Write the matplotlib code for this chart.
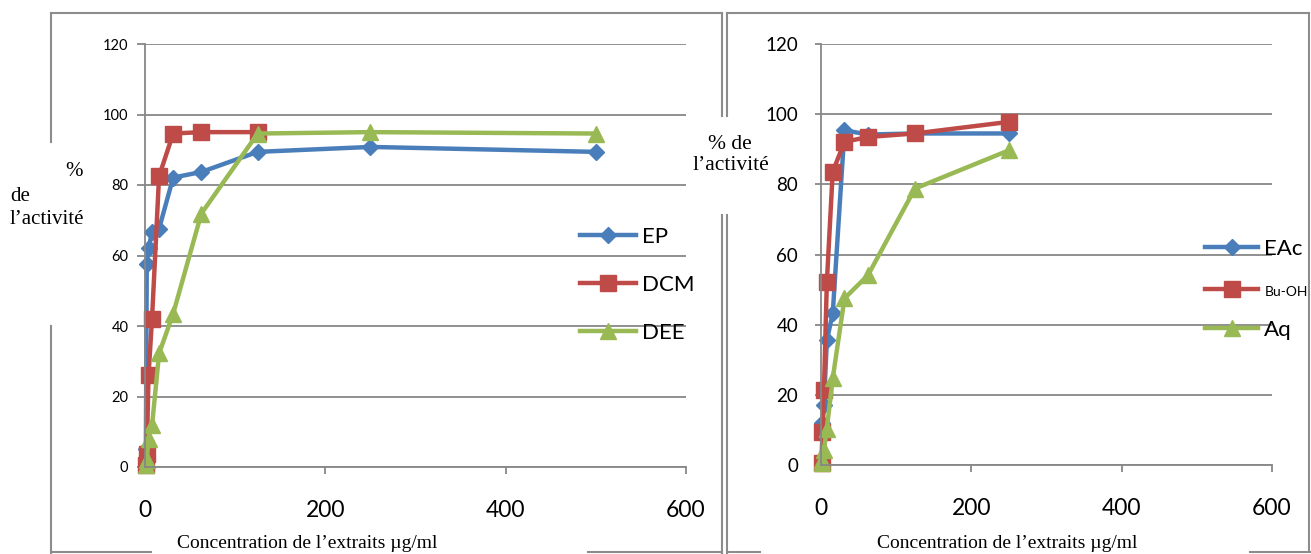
"""activite des extraits en fonction de la concentration (deux graphes)"""
import matplotlib
matplotlib.use("Agg")
import matplotlib.pyplot as plt
from matplotlib.lines import Line2D

# concentrations (µg/ml)
conc_left = [0.98, 1.95, 3.9, 7.8, 15.6, 31.25, 62.5, 125, 250, 500]
conc_right = [0.98, 1.95, 3.9, 7.8, 15.6, 31.25, 62.5, 125, 250]

# % de l'activite - graphe de gauche
ep = [5.0, 57.7, 62.0, 66.7, 67.6, 82.1, 83.7, 89.4, 90.8, 89.4]
dcm = [0.5, 3.8, 26.0, 42.1, 82.5, 94.6, 95.0, 95.0]
dee = [0.5, 2.0, 8.0, 11.8, 32.2, 43.5, 71.9, 94.6, 95.0, 94.6]

# % de l'activite - graphe de droite
eac = [0.5, 11.9, 17.1, 35.6, 43.2, 95.4, 94.2, 94.5, 94.5]
buoh = [0.5, 9.5, 21.4, 52.2, 83.6, 92.1, 93.5, 94.5, 97.8]
aq = [0.5, 1.5, 4.3, 10.4, 24.7, 47.5, 54.1, 78.8, 89.7]

labels_left = ["EP", "DCM", "DEE"]
labels_right = ["EAc", "Bu-OH", "Aq"]
x_ticks = [0, 200, 400, 600]
y_ticks = [0, 20, 40, 60, 80, 100, 120]

BLUE = "#4A7EBB"
RED = "#BE4B48"
GREEN = "#98B954"
GRID = "#878787"
FRAME = "#8C8C8C"
SERIF = ["Liberation Serif", "DejaVu Serif"]

W, H = 1311, 554


def fx(px):
    """pixel -> fraction (x)"""
    return px / W


def fy(py):
    """pixel -> fraction (y)"""
    return 1 - py / H


def style_axes(ax, ysize, ylen, ypad):
    """axes a la Excel"""
    ax.set_xlim(0, 600)
    ax.set_ylim(0, 120)
    ax.set_xticks(x_ticks)
    ax.set_yticks(y_ticks)
    ax.grid(axis="y", color=GRID, lw=1.3)
    ax.set_axisbelow(True)
    for s in ["top", "right"]:
        ax.spines[s].set_visible(False)
    for s in ["left", "bottom"]:
        ax.spines[s].set_color(GRID)
        ax.spines[s].set_linewidth(1.3)
    ax.tick_params(axis="x", direction="out", length=5, width=1.3,
                   color=GRID, pad=19, labelsize=16.5)
    ax.tick_params(axis="y", direction="out", length=ylen, width=1.3,
                   color=GRID, pad=ypad, labelsize=ysize)


def plot_series(ax, x, y, color, marker, ms, label):
    """ligne + marqueurs"""
    ax.plot(x[:len(y)], y, color=color, lw=3.2, marker=marker, ms=ms,
            mfc=color, mec=color, mew=1, clip_on=False, label=label)


def frame_line(fig, x0, y0, x1, y1):
    """trait du cadre (pixels)"""
    fig.add_artist(Line2D([fx(x0), fx(x1)], [fy(y0), fy(y1)],
                          transform=fig.transFigure, color=FRAME, lw=1.5))


def main():
    """main"""
    plt.rcParams["font.family"] = ["Lato", "Liberation Sans", "DejaVu Sans"]
    fig = plt.figure(figsize=(W / 100, H / 100), dpi=100)

    # cadres
    frame_line(fig, 51, 13, 722, 13)
    frame_line(fig, 51, 13, 51, 142)
    frame_line(fig, 51, 326, 51, 554)
    frame_line(fig, 722, 13, 722, 116)
    frame_line(fig, 722, 215, 722, 554)
    frame_line(fig, 51, 552, 151, 552)
    frame_line(fig, 588, 552, 722, 552)
    frame_line(fig, 727, 13, 1309, 13)
    frame_line(fig, 727, 13, 727, 116)
    frame_line(fig, 727, 215, 727, 554)
    frame_line(fig, 1309, 13, 1309, 551)
    frame_line(fig, 727, 552, 760, 552)
    frame_line(fig, 1250, 552, 1311, 552)

    # graphe de gauche
    ax1 = fig.add_axes([fx(145), fy(467), fx(686) - fx(145), fy(44) - fy(467)])
    style_axes(ax1, 10.5, 6, 6)
    plot_series(ax1, conc_left, ep, BLUE, "D", 8, labels_left[0])
    plot_series(ax1, conc_left, dcm, RED, "s", 12, labels_left[1])
    plot_series(ax1, conc_left, dee, GREEN, "^", 12, labels_left[2])
    ax1.legend(loc="upper left", bbox_to_anchor=(fx(580), fy(227)),
               bbox_transform=fig.transFigure, frameon=False, fontsize=16,
               borderpad=0, borderaxespad=0, handlelength=2.5,
               handletextpad=0.27, labelspacing=1.25)

    # graphe de droite
    ax2 = fig.add_axes([fx(821), fy(465), fx(1272) - fx(821), fy(44) - fy(465)])
    style_axes(ax2, 13.5, 4.5, 12)
    plot_series(ax2, conc_right, eac, BLUE, "D", 8, labels_right[0])
    plot_series(ax2, conc_right, buoh, RED, "s", 12, labels_right[1])
    plot_series(ax2, conc_right, aq, GREEN, "^", 12, labels_right[2])
    leg = ax2.legend(loc="upper left", bbox_to_anchor=(fx(1205), fy(239)),
                     bbox_transform=fig.transFigure, frameon=False, fontsize=16,
                     borderpad=0, borderaxespad=0, handlelength=2.4,
                     handletextpad=0.27, labelspacing=0.98)
    leg.get_texts()[1].set_fontsize(10)

    # titres des axes
    fig.text(fx(307), fy(543), "Concentration de l’extraits µg/ml", family=SERIF,
             fontsize=14, ha="center", va="center")
    fig.text(fx(1007), fy(543), "Concentration de l’extraits µg/ml", family=SERIF,
             fontsize=14, ha="center", va="center")
    fig.text(fx(65), fy(172), "%", family=SERIF, fontsize=15, ha="left", va="center")
    fig.text(fx(10), fy(197), "de", family=SERIF, fontsize=15, ha="left", va="center")
    fig.text(fx(10), fy(219), "l’activité", family=SERIF, fontsize=15, ha="left", va="center")
    fig.text(fx(730), fy(145), "% de", family=SERIF, fontsize=15.5, ha="center", va="center")
    fig.text(fx(731), fy(166), "l’activité", family=SERIF, fontsize=15.5, ha="center", va="center")

    fig.savefig("out.png", dpi=100)
    plt.close("all")
    return 0


if __name__ == "__main__":
    main()
